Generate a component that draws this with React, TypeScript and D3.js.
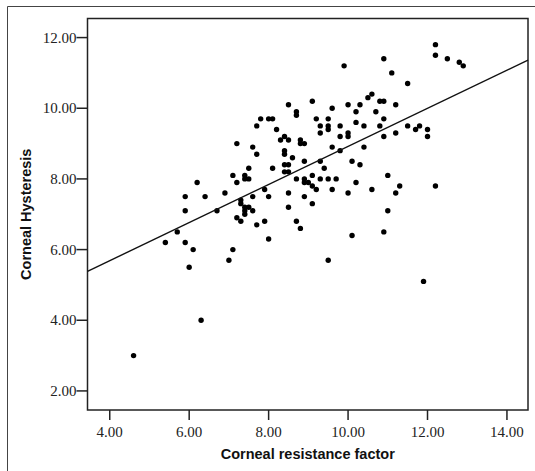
import * as React from 'react';
import * as d3 from 'd3';

// Corneal resistance factor (x) and corneal hysteresis (y)
const crf = [
  12.2, 12.2, 12.5, 12.8, 12.9, 9.9, 10.9, 11.1, 11.5, 10.6, 10.5, 10.8, 10.9, 9.1, 8.5,
  10.0, 10.3, 11.2, 9.6, 8.7, 8.7, 10.2, 10.7, 7.8, 8.0, 8.1, 9.2, 9.5, 10.9, 10.2,
  7.7, 9.3, 9.5, 9.8, 10.4, 10.8, 11.5, 11.8, 8.2, 9.5, 11.7, 12.0, 9.3, 11.2, 10.0,
  8.4, 9.8, 10.0, 10.9, 12.0, 8.3, 8.5, 8.8, 8.8, 8.9, 7.2, 7.6, 9.6, 10.4, 8.4,
  9.8, 8.4, 7.7, 8.6, 8.9, 9.3, 10.1, 8.4, 8.5, 10.3, 8.1, 7.5, 9.4, 8.4, 8.5,
  7.1, 7.4, 9.1, 11.0, 7.4, 7.5, 8.7, 8.9, 9.3, 9.5, 9.7, 6.2, 7.2, 8.9, 9.0,
  10.2, 9.1, 11.3, 12.2, 7.9, 9.2, 9.6, 10.6, 6.9, 8.5, 10.0, 11.2, 5.9, 6.4, 7.6,
  8.0, 8.9, 7.3, 7.3, 9.1, 7.4, 7.5, 8.5, 5.9, 6.7, 7.4, 7.6, 11.0, 7.4, 7.2,
  7.3, 7.9, 8.7, 7.7, 8.8, 5.7, 10.9, 10.1, 8.0, 5.4, 5.9, 6.1, 7.1, 7.0, 9.5,
  6.0, 11.9, 6.3, 4.6,
];
const ch = [
  11.8, 11.5, 11.4, 11.3, 11.2, 11.2, 11.4, 11.0, 10.7, 10.4, 10.3, 10.2, 10.2, 10.2, 10.1,
  10.1, 10.1, 10.1, 10.0, 9.9, 9.8, 9.9, 9.9, 9.7, 9.7, 9.7, 9.7, 9.7, 9.7, 9.6,
  9.5, 9.5, 9.5, 9.5, 9.5, 9.5, 9.5, 9.5, 9.4, 9.4, 9.4, 9.4, 9.3, 9.3, 9.3,
  9.2, 9.2, 9.2, 9.2, 9.2, 9.1, 9.1, 9.1, 9.0, 9.0, 9.0, 8.9, 8.9, 8.9, 8.8,
  8.8, 8.7, 8.7, 8.6, 8.5, 8.5, 8.5, 8.4, 8.4, 8.4, 8.3, 8.3, 8.3, 8.2, 8.2,
  8.1, 8.1, 8.1, 8.1, 8.0, 8.0, 8.0, 8.0, 8.0, 8.0, 8.0, 7.9, 7.9, 7.9, 7.9,
  7.9, 7.8, 7.8, 7.8, 7.7, 7.7, 7.7, 7.7, 7.6, 7.6, 7.6, 7.6, 7.5, 7.5, 7.5,
  7.5, 7.5, 7.4, 7.3, 7.3, 7.2, 7.2, 7.2, 7.1, 7.1, 7.1, 7.1, 7.1, 7.0, 6.9,
  6.8, 6.8, 6.8, 6.7, 6.6, 6.5, 6.5, 6.4, 6.3, 6.2, 6.2, 6.0, 6.0, 5.7, 5.7,
  5.5, 5.1, 4.0, 3.0,
];

// fit line shown on the chart
const fitIntercept = 3.53;
const fitSlope = 0.539;

const xTicks = [4, 6, 8, 10, 12, 14];
const yTicks = [2, 4, 6, 8, 10, 12];

export default function App() {
  const ref = React.useRef<SVGSVGElement>(null);

  React.useEffect(() => {
    const svg = d3.select(ref.current);
    svg.selectAll('*').remove();

    const left = 87.5, right = 528, top = 18.5, bottom = 410;

    const x = d3.scaleLinear().domain([3.44, 14.53]).range([left, right]);
    const y = d3.scaleLinear().domain([1.46, 12.54]).range([bottom, top]);

    // outer border (left + top only visible)
    svg.append('path')
      .attr('d', `M7.5,471 L7.5,6.5 L535,6.5`)
      .attr('fill', 'none')
      .attr('stroke', '#444')
      .attr('stroke-width', 1);

    svg.append('rect')
      .attr('x', left).attr('y', top)
      .attr('width', right - left).attr('height', bottom - top)
      .attr('fill', 'white')
      .attr('stroke', '#222')
      .attr('stroke-width', 1.5);

    // ticks
    const xa = svg.append('g');
    xTicks.forEach((t) => {
      xa.append('line')
        .attr('x1', x(t)).attr('x2', x(t))
        .attr('y1', bottom).attr('y2', bottom + 10)
        .attr('stroke', '#222').attr('stroke-width', 1.5);
      xa.append('text')
        .attr('x', x(t)).attr('y', bottom + 27)
        .attr('text-anchor', 'middle')
        .style('font-family', '"Liberation Serif", serif')
        .style('font-size', '15px')
        .attr('fill', '#222')
        .text(t.toFixed(2));
    });
    const ya = svg.append('g');
    yTicks.forEach((t) => {
      ya.append('line')
        .attr('x1', left - 11).attr('x2', left)
        .attr('y1', y(t)).attr('y2', y(t))
        .attr('stroke', '#222').attr('stroke-width', 1.5);
      ya.append('text')
        .attr('x', left - 11).attr('y', y(t) + 5)
        .attr('text-anchor', 'end')
        .style('font-family', '"Liberation Serif", serif')
        .style('font-size', '15px')
        .attr('fill', '#222')
        .text(t.toFixed(2));
    });

    // points
    svg.append('g')
      .selectAll('circle')
      .data(crf.map((v, i) => [v, ch[i]]))
      .enter()
      .append('circle')
      .attr('cx', (d) => x(d[0]))
      .attr('cy', (d) => y(d[1]))
      .attr('r', 2.7)
      .attr('fill', '#000');

    // fit line
    const x0 = x.domain()[0], x1 = x.domain()[1];
    svg.append('line')
      .attr('x1', x(x0)).attr('y1', y(fitIntercept + fitSlope * x0))
      .attr('x2', x(x1)).attr('y2', y(fitIntercept + fitSlope * x1))
      .attr('stroke', '#111')
      .attr('stroke-width', 1.4);

    // axis titles
    svg.append('text')
      .attr('x', (left + right) / 2).attr('y', 459)
      .attr('text-anchor', 'middle')
      .style('font-family', '"Liberation Sans", Arial, sans-serif')
      .style('font-weight', 'bold')
      .style('font-size', '14.5px')
      .attr('fill', '#111')
      .text('Corneal resistance factor');

    svg.append('text')
      .attr('transform', `translate(31,${(top + bottom) / 2}) rotate(-90)`)
      .attr('text-anchor', 'middle')
      .style('font-family', '"Liberation Sans", Arial, sans-serif')
      .style('font-weight', 'bold')
      .style('font-size', '14.5px')
      .attr('fill', '#111')
      .text('Corneal Hysteresis');
  }, []);

  return (
    <div style={{ position: 'absolute', left: 0, top: 0 }}>
      <svg ref={ref} width={535} height={471} style={{ display: 'block', background: 'white' }} />
    </div>
  );
}
